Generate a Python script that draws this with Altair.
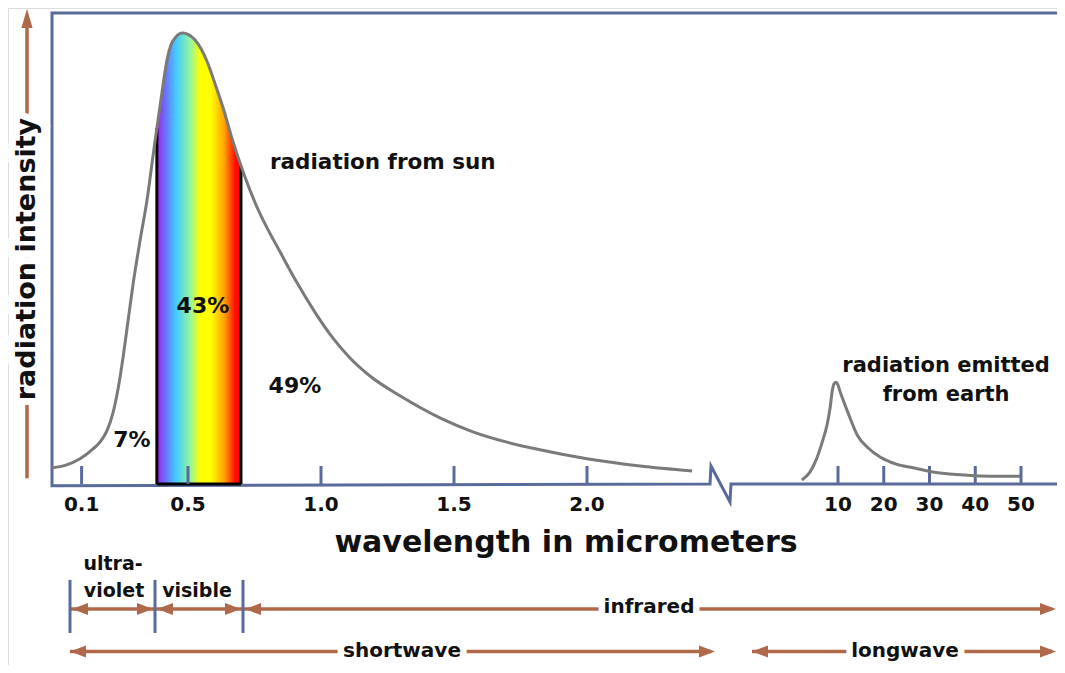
import altair as alt
import pandas as pd

# ---------------- data ----------------
# solar curve: wavelength position (micrometers, shortwave part of axis) and relative intensity
sun_wavelength = [-0.011, 0.041, 0.094, 0.143, 0.169, 0.195, 0.218, 0.237, 0.256, 0.274,
                  0.293, 0.320, 0.346, 0.368, 0.383, 0.395, 0.410, 0.421, 0.436, 0.451,
                  0.466, 0.481, 0.500, 0.526, 0.549, 0.571, 0.602, 0.632, 0.665, 0.699,
                  0.733, 0.759, 0.782, 0.846, 0.910, 0.977, 1.045, 1.109, 1.184, 1.297,
                  1.447, 1.571, 1.699, 1.823, 2.000, 2.199, 2.395]
sun_intensity = [3.6, 4.2, 5.6, 7.8, 9.3, 11.8, 15.8, 21.1, 28.2, 36.0,
                 44.2, 54.2, 63.1, 72.7, 79.1, 84.0, 90.2, 94.2, 97.6, 99.1,
                 100.0, 100.2, 99.9, 98.7, 96.7, 94.0, 88.9, 83.6, 76.9, 70.7,
                 65.3, 61.6, 58.7, 51.6, 44.7, 38.2, 32.4, 28.0, 24.0, 19.6,
                 14.7, 11.6, 9.3, 7.6, 5.6, 4.0, 2.9]

# earth curve: wavelength (micrometers, longwave part of axis) and relative intensity
earth_wavelength = [2.1, 3.9, 5.2, 6.7, 7.6, 8.3, 8.7, 9.1, 9.6, 10.0, 10.4, 10.9, 12.2,
                    14.2, 16.6, 19.2, 22.7, 26.4, 30.1, 33.8, 37.8, 41.0, 45.4, 49.8]
earth_intensity = [0.9, 2.7, 5.3, 9.8, 13.1, 17.1, 20.4, 22.2, 22.6, 22.0, 20.7, 19.3, 15.8,
                   10.9, 8.0, 6.0, 4.4, 3.6, 2.8, 2.3, 2.0, 1.8, 1.7, 1.7]

visible_band = [0.383, 0.699]

short_ticks = [0.1, 0.5, 1.0, 1.5, 2.0]
short_tick_labels = ["0.1", "0.5", "1.0", "1.5", "2.0"]
long_ticks = [10, 20, 30, 40, 50]
long_tick_labels = ["10", "20", "30", "40", "50"]

percent_labels = ["7%", "43%", "49%"]
percent_pos = [0.289, 0.556, 0.902]
percent_int = [9.8, 39.6, 21.8]

# ---------------- layout / scale helpers ----------------
W, H = 1049, 657
X_MIN, X_MAX = -47 / 266, 1002 / 266
Y_MIN, Y_MAX = -181 / 4.5, 476 / 4.5

LONG_ORIGIN = 783 / 266          # axis position of the 10 micrometer tick
LONG_STEP = 4.575 / 266          # axis units per micrometer on the longwave part


def long_pos(w):
    return LONG_ORIGIN + (w - 10) * LONG_STEP


xs = alt.Scale(domain=[X_MIN, X_MAX], nice=False, zero=False)
ys = alt.Scale(domain=[Y_MIN, Y_MAX], nice=False, zero=False)


def X(f="pos"):
    return alt.X(f"{f}:Q", scale=xs, axis=None)


def Y(f="I"):
    return alt.Y(f"{f}:Q", scale=ys, axis=None)


AXIS_BLUE = "#5a6a9c"
ARROW = "#b0684a"
CURVE = "#7a7a7a"
FONT = "DejaVu Sans"
HEAD_R = "M 0 0 L -2 -0.75 L -2 0.75 Z"
HEAD_L = "M 0 0 L 2 -0.75 L 2 0.75 Z"
HEAD_U = "M 0 0 L -0.7 2.4 L 0.7 2.4 Z"

sun = pd.DataFrame({"pos": sun_wavelength, "I": sun_intensity})
earth = pd.DataFrame({"pos": [long_pos(w) for w in earth_wavelength], "I": earth_intensity})
band = sun[(sun.pos >= visible_band[0]) & (sun.pos <= visible_band[1])]

# frame (top, left, bottom with axis break)
LEFT, TOP = -3 / 266, 471 / 4.5
BRK = [(655 / 266, 0), (656 / 266, 4.0), (675 / 266, -4.0), (676 / 266, 0)]
frame = pd.DataFrame({
    "pos": [X_MAX + 0.01, LEFT, LEFT] + [b[0] for b in BRK] + [X_MAX + 0.01],
    "I": [TOP, TOP, -0.4] + [b[1] for b in BRK] + [0],
})
frame["o"] = range(len(frame))
frame_layer = alt.Chart(frame).mark_line(color=AXIS_BLUE, strokeWidth=3, strokeJoin="miter").encode(
    x=X(), y=Y(), order="o:Q")

ticks = pd.DataFrame({
    "pos": list(short_ticks) + [long_pos(v) for v in long_ticks],
    "label": short_tick_labels + long_tick_labels,
})
ticks["I"] = 0.0
ticks["I2"] = 4.0
ticks["IL"] = -4.6
tick_layer = alt.Chart(ticks).mark_rule(color=AXIS_BLUE, strokeWidth=3).encode(
    x=X(), y=Y(), y2=alt.Y2("I2:Q"))
tick_text = alt.Chart(ticks).mark_text(font=FONT, fontWeight="bold", fontSize=20, color="#111",
                                       baseline="middle").encode(x=X(), y=Y("IL"), text="label:N")

gradient = alt.LinearGradient(
    gradient="linear", x1=0, x2=1, y1=0, y2=0,
    stops=[
        alt.GradientStop(color="#a21ff0", offset=0.0),
        alt.GradientStop(color="#6a70ff", offset=0.1),
        alt.GradientStop(color="#44ccff", offset=0.23),
        alt.GradientStop(color="#8ff4a4", offset=0.39),
        alt.GradientStop(color="#ffff00", offset=0.52),
        alt.GradientStop(color="#ffff00", offset=0.64),
        alt.GradientStop(color="#ffa500", offset=0.8),
        alt.GradientStop(color="#ff1000", offset=0.93),
        alt.GradientStop(color="#ff0000", offset=1.0),
    ])
band_layer = alt.Chart(band).mark_area(color=gradient, interpolate="monotone").encode(
    x=X(), y=Y(), y2=alt.datum(0))
edges = pd.DataFrame({"pos": [band.pos.iloc[0], band.pos.iloc[-1]],
                      "I": [band.I.iloc[0], band.I.iloc[-1]]})
edge_layer = alt.Chart(edges).mark_rule(color="black", strokeWidth=3).encode(
    x=X(), y=Y(), y2=alt.datum(0))
bottom_edge = alt.Chart(pd.DataFrame({"pos": [visible_band[0]], "pos2": [visible_band[1]], "I": [0.0]})).mark_rule(
    color="black", strokeWidth=3).encode(x=X(), x2=alt.X2("pos2:Q"), y=Y())

sun_layer = alt.Chart(sun).mark_line(color=CURVE, strokeWidth=3, interpolate="monotone").encode(x=X(), y=Y())
earth_layer = alt.Chart(earth).mark_line(color=CURVE, strokeWidth=3, interpolate="monotone").encode(x=X(), y=Y())

# annotations
pct = pd.DataFrame({"pos": percent_pos, "I": percent_int, "t": percent_labels})
pct_layer = alt.Chart(pct).mark_text(font=FONT, fontWeight="bold", fontSize=22, color="#111",
                                     baseline="middle").encode(x=X(), y=Y(), text="t:N")

notes = pd.DataFrame({"pos": [215 / 266, 3.350, 3.350], "I": [71.3, 26.2, 19.8],
                      "t": ["radiation from sun", "radiation emitted", "from earth"],
                      "a": ["left", "center", "center"]})
note_left = alt.Chart(notes[notes.a == "left"]).mark_text(
    font=FONT, fontWeight="bold", fontSize=21.5, color="#111", align="left", baseline="middle").encode(
    x=X(), y=Y(), text="t:N")
note_center = alt.Chart(notes[notes.a == "center"]).mark_text(
    font=FONT, fontWeight="bold", fontSize=21, color="#111", align="center", baseline="middle").encode(
    x=X(), y=Y(), text="t:N")

xtitle = alt.Chart(pd.DataFrame({"pos": [1.921], "I": [-13.1], "t": ["wavelength in micrometers"]})).mark_text(
    font=FONT, fontWeight="bold", fontSize=30, color="#111", baseline="middle").encode(x=X(), y=Y(), text="t:N")

# vertical arrow with y title
YA = -28 / 266
yline = alt.Chart(pd.DataFrame({"pos": [YA], "I": [1.3], "I2": [102.0]})).mark_rule(
    color=ARROW, strokeWidth=3.5).encode(x=X(), y=Y(), y2=alt.Y2("I2:Q"))
yhead = alt.Chart(pd.DataFrame({"pos": [YA], "I": [105.6]})).mark_point(
    shape=HEAD_U, filled=True, size=256, color=ARROW, opacity=1, strokeWidth=0).encode(
    x=X(), y=Y())
ytitle_df = pd.DataFrame({"pos": [YA], "I": [50.0], "t": ["radiation intensity"]})
ytitle_halo = alt.Chart(ytitle_df).mark_text(font=FONT, fontWeight="bold", fontSize=27, angle=270,
                                             color="white", stroke="white", strokeWidth=14,
                                             baseline="middle").encode(x=X(), y=Y(), text="t:N")
ytitle = alt.Chart(ytitle_df).mark_text(font=FONT, fontWeight="bold", fontSize=27, angle=270,
                                        color="#111", baseline="middle").encode(x=X(), y=Y(), text="t:N")

# spectral region arrows
R1, R2 = -27.8, -37.2
UV0, UVVIS, VISIR = 15 / 266, 100 / 266, 188 / 266
REND, SWEND, LW0 = 1001 / 266, 660 / 266, 697 / 266
segs = pd.DataFrame({
    "pos": [UV0, UVVIS, VISIR, UV0, LW0],
    "pos2": [UVVIS, VISIR, REND - 4 / 266, SWEND - 4 / 266, REND - 4 / 266],
    "I": [R1, R1, R1, R2, R2],
})
seg_layer = alt.Chart(segs).mark_rule(color=ARROW, strokeWidth=3.5).encode(
    x=X(), x2=alt.X2("pos2:Q"), y=Y())
heads_r = pd.DataFrame({"pos": [UVVIS - 2 / 266, VISIR - 2 / 266, REND, SWEND, REND],
                        "I": [R1, R1, R1, R2, R2]})
heads_l = pd.DataFrame({"pos": [UV0 + 2 / 266, UVVIS + 2 / 266, VISIR + 2 / 266, UV0, LW0],
                        "I": [R1, R1, R1, R2, R2]})
head_r_layer = alt.Chart(heads_r).mark_point(shape=HEAD_R, filled=True, size=256,
                                             color=ARROW, opacity=1, strokeWidth=0).encode(x=X(), y=Y())
head_l_layer = alt.Chart(heads_l).mark_point(shape=HEAD_L, filled=True, size=256,
                                             color=ARROW, opacity=1, strokeWidth=0).encode(x=X(), y=Y())
bounds = pd.DataFrame({"pos": [UV0, UVVIS, VISIR], "I": [-21.3] * 3, "I2": [-33.1] * 3})
bound_layer = alt.Chart(bounds).mark_rule(color=AXIS_BLUE, strokeWidth=3).encode(
    x=X(), y=Y(), y2=alt.Y2("I2:Q"))

on_line = pd.DataFrame({"pos": [594 / 266, 347 / 266, 850 / 266], "I": [R1 + 0.4, R2, R2],
                        "t": ["infrared", "shortwave", "longwave"]})
on_line_halo = alt.Chart(on_line).mark_text(font=FONT, fontWeight="bold", fontSize=20, color="white",
                                            stroke="white", strokeWidth=13, baseline="middle").encode(
    x=X(), y=Y(), text="t:N")
on_line_text = alt.Chart(on_line).mark_text(font=FONT, fontWeight="bold", fontSize=20, color="#111",
                                            baseline="middle").encode(x=X(), y=Y(), text="t:N")
above = pd.DataFrame({"pos": [58 / 266, 59 / 266, 142 / 266], "I": [-17.8, -23.8, -23.8],
                      "t": ["ultra-", "violet", "visible"]})
above_text = alt.Chart(above).mark_text(font=FONT, fontWeight="bold", fontSize=19, color="#111",
                                        baseline="middle").encode(x=X(), y=Y(), text="t:N")

chart = alt.layer(
    frame_layer, band_layer, edge_layer, bottom_edge, tick_layer, sun_layer, earth_layer,
    tick_text, pct_layer, note_left, note_center, xtitle,
    yline, yhead, ytitle_halo, ytitle,
    seg_layer, head_r_layer, head_l_layer, bound_layer, on_line_halo, on_line_text, above_text,
).properties(
    width=W, height=H, autosize=alt.AutoSizeParams(type="none"), padding=0
).configure_view(strokeWidth=0).configure(background="white")

chart.save("out.html", embed_options={"renderer": "svg", "actions": False})
